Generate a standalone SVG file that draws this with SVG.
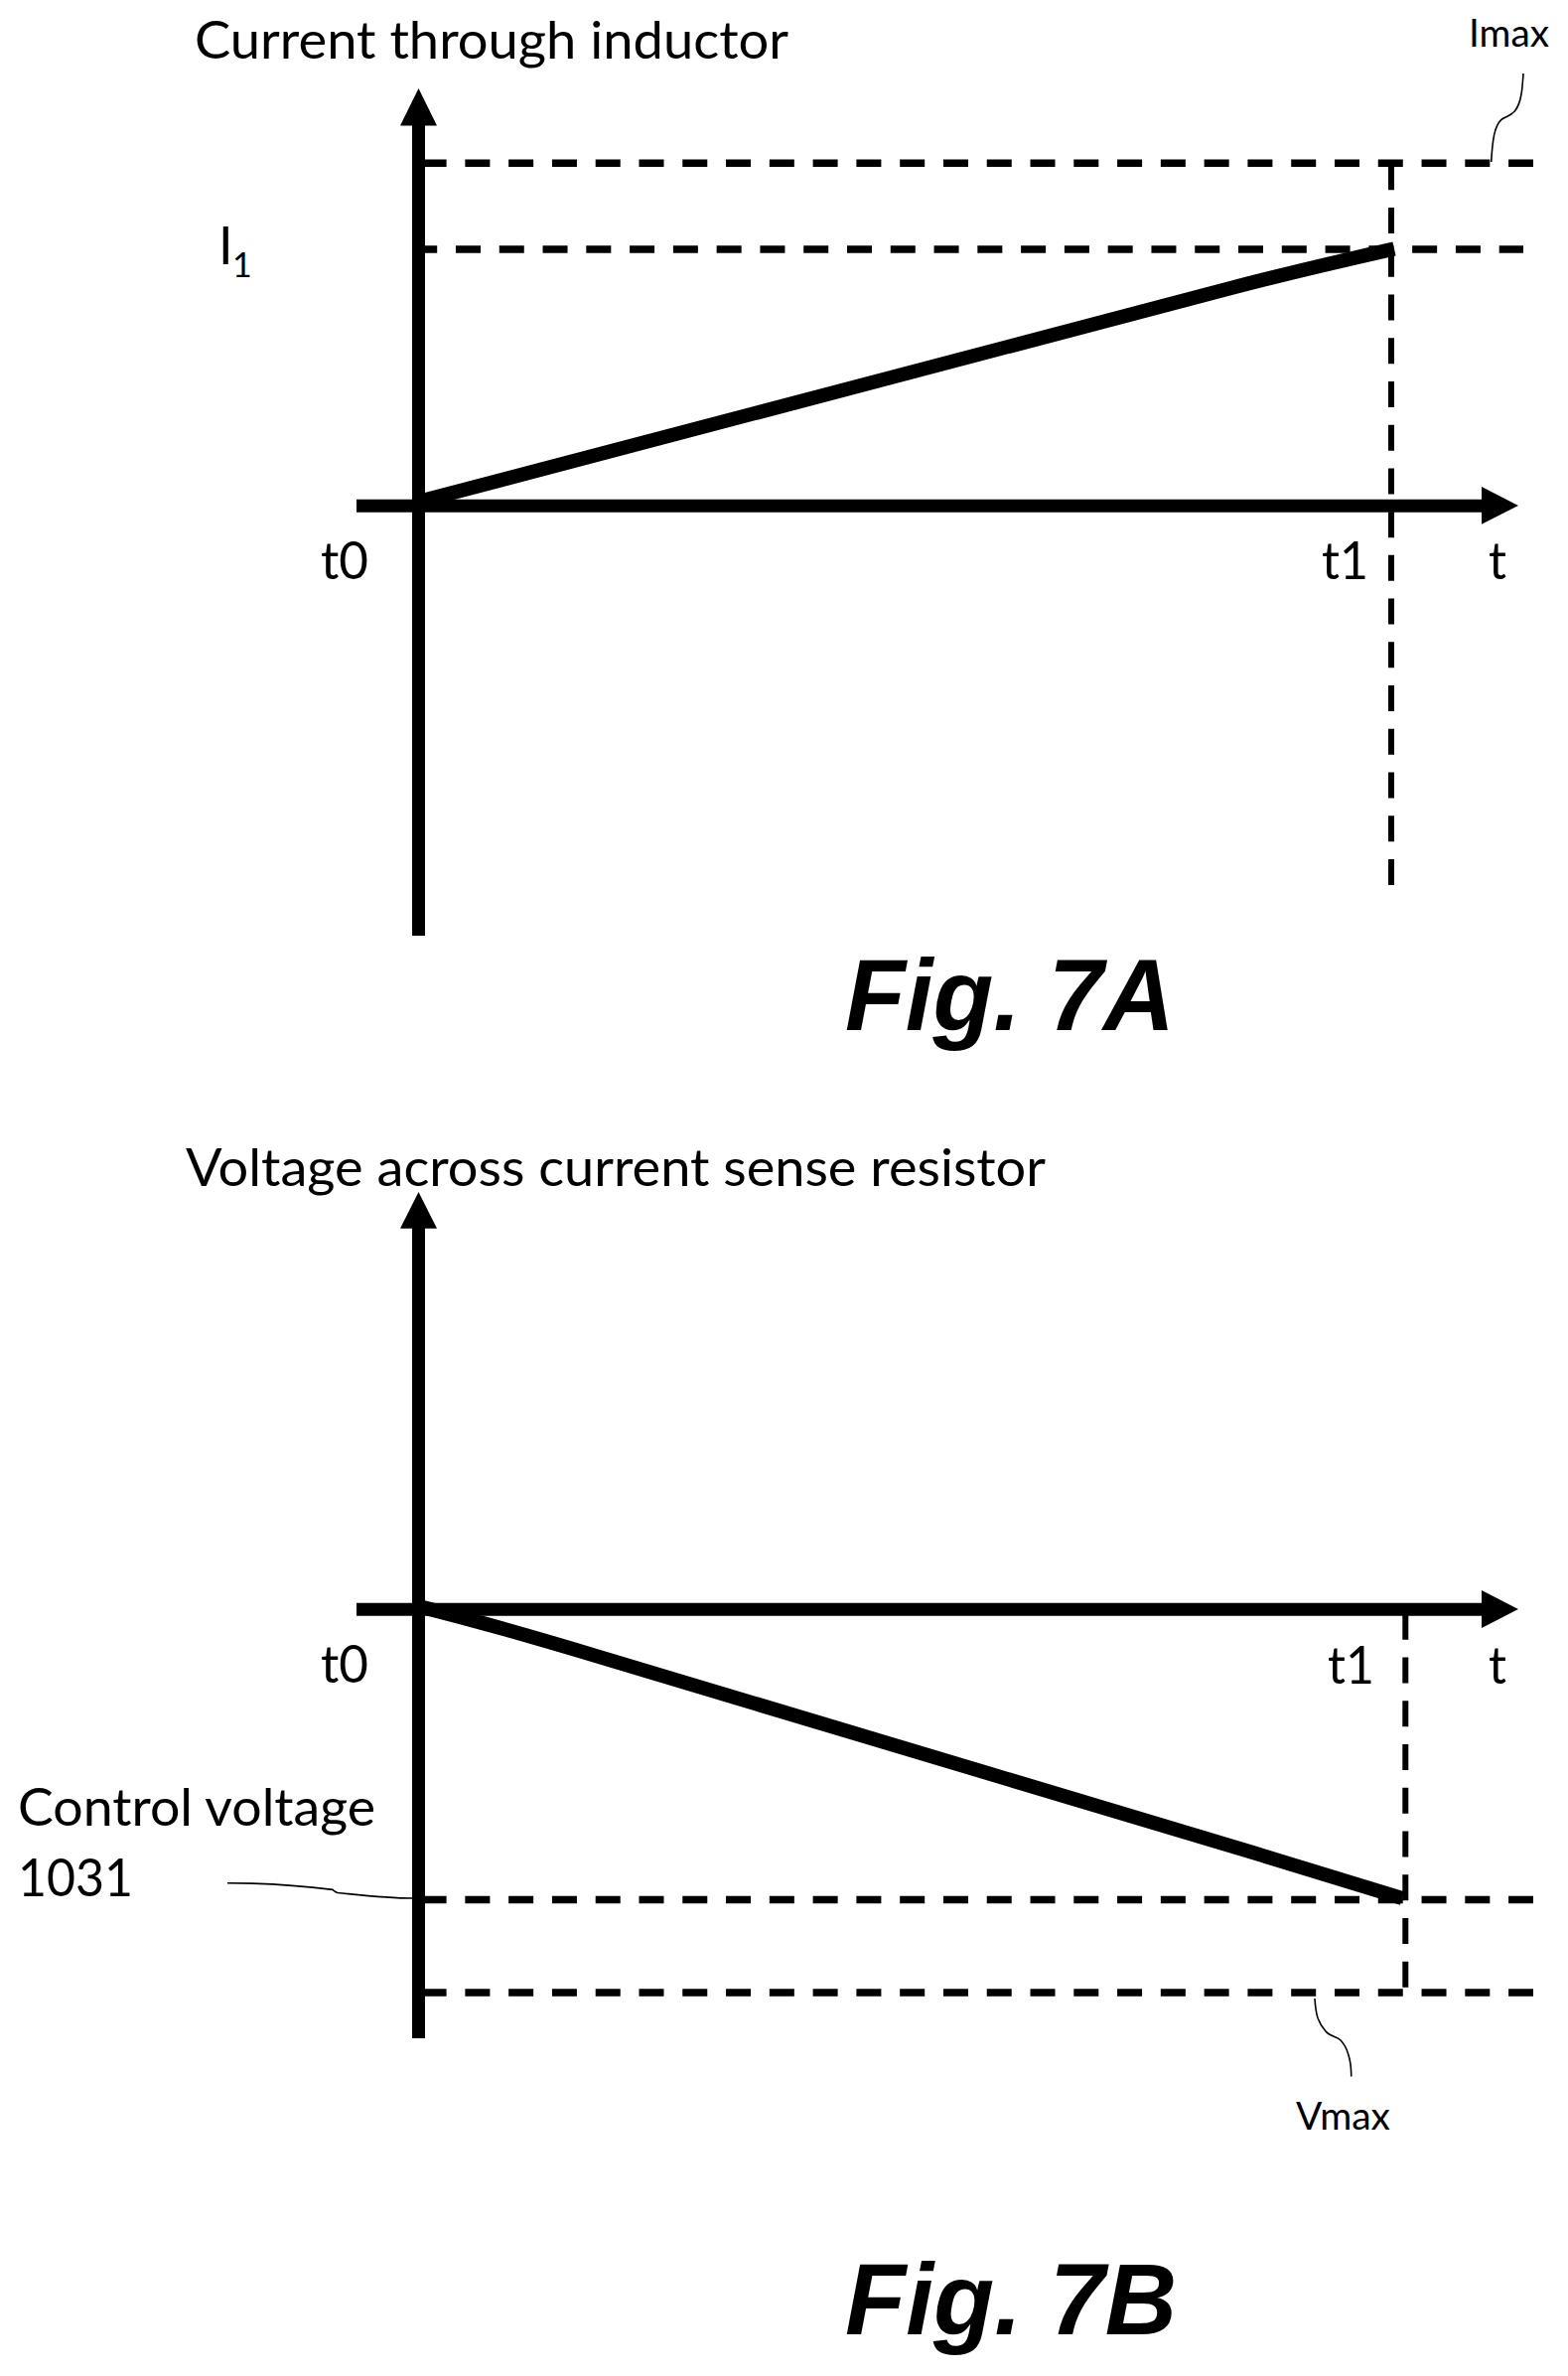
<svg xmlns="http://www.w3.org/2000/svg" width="1579" height="2392" viewBox="0 0 1579 2392">
<style>
.bg{fill:#fff}
.axis{fill:none;stroke:#000;stroke-width:13}
.ramp{fill:none;stroke:#000;stroke-width:14.2;stroke-linejoin:miter}
.head{fill:#000;stroke:none}
.dh{fill:none;stroke:#000;stroke-width:7.5;stroke-dasharray:25 18.78}
.dv{fill:none;stroke:#000;stroke-width:6;stroke-dasharray:26 17.73}
.lead{fill:none;stroke:#000;stroke-width:1.6}
text{font-family:"Lato","Noto Sans","Liberation Sans",sans-serif;fill:#000}
.t{font-size:52px}
.s{font-size:38px}
.fig{font-family:"Liberation Sans",Arial,sans-serif;font-weight:bold;font-style:italic;font-size:102px}
</style>
<rect class="bg" width="1579" height="2392"/>
<g id="chart-7a">
<g id="connectors-7a">
<path class="dh" d="M424.6 164.2H1544"/>
<path class="dh" d="M415.2 251H1534"/>
<path class="dv" d="M1401 165.3V891"/>
<path class="axis" d="M421.5 120V942"/>
<polygon class="head" points="421.5,89 440,126.5 403,126.5"/>
<path class="axis" d="M359 509.3H1497"/>
<polygon class="head" points="1529,509 1492,490 1492,527.7"/>
<path class="ramp" d="M421 505.2L1240 289.9Q1300 274 1404 250.5"/>
<path class="lead" d="M1534 74C1533 90 1532 103 1526 111C1521 118 1515 117 1511.7 120.6C1505 127 1503 140 1501.7 163"/>
</g>
<g id="labels-7a">
<text class="t" x="196" y="58.5" textLength="598" lengthAdjust="spacingAndGlyphs">Current through inductor</text>
<text class="t" x="220" y="265.6">I</text>
<text x="234" y="279" style="font-size:34px">1</text>
<text class="t" x="323" y="583" textLength="48" lengthAdjust="spacingAndGlyphs">t0</text>
<text class="t" x="1331" y="583" textLength="47" lengthAdjust="spacingAndGlyphs">t1</text>
<text class="t" x="1499" y="583" textLength="18" lengthAdjust="spacingAndGlyphs">t</text>
<text class="s" x="1479" y="47" textLength="81" lengthAdjust="spacingAndGlyphs">Imax</text>
<text class="fig" x="851" y="1037" textLength="332" lengthAdjust="spacingAndGlyphs">Fig. 7A</text>
</g>
</g>
<g id="chart-7b">
<g id="connectors-7b">
<path class="dh" d="M424.6 1912.5H1544"/>
<path class="dh" d="M424.6 2006H1544"/>
<path class="dv" d="M1415.3 1624.8V2001"/>
<path class="axis" d="M421.5 1230V2052"/>
<polygon class="head" points="421.5,1200 440,1236.8 403,1236.8"/>
<path class="axis" d="M359 1620.3H1497"/>
<polygon class="head" points="1529,1620 1492,1601 1492,1639"/>
<path class="ramp" d="M421 1617Q490 1634 600 1667L1260 1864.5Q1320 1882.5 1412 1911"/>
<path class="lead" d="M1324 2012C1325 2028 1327 2036 1335 2045C1340 2051 1346 2050 1350 2054C1356 2060 1361 2073 1360.7 2090.6"/>
<path class="lead" d="M229 1895.7C262 1895.7 300 1898 335 1902.4C337 1904 338 1905 340 1905.5C365 1908 390 1911 415 1911"/>
</g>
<g id="labels-7b">
<text class="t" x="187" y="1194" textLength="866" lengthAdjust="spacingAndGlyphs">Voltage across current sense resistor</text>
<text class="t" x="323" y="1694" textLength="48" lengthAdjust="spacingAndGlyphs">t0</text>
<text class="t" x="1337" y="1694.7" textLength="47" lengthAdjust="spacingAndGlyphs">t1</text>
<text class="t" x="1499" y="1694.7" textLength="18" lengthAdjust="spacingAndGlyphs">t</text>
<text class="t" x="18" y="1838" textLength="360" lengthAdjust="spacingAndGlyphs">Control voltage</text>
<text class="t" x="18" y="1908.5" textLength="116" lengthAdjust="spacingAndGlyphs">1031</text>
<text class="s" x="1305" y="2143.7" textLength="95" lengthAdjust="spacingAndGlyphs">Vmax</text>
<text class="fig" x="851" y="2350.3" textLength="334" lengthAdjust="spacingAndGlyphs">Fig. 7B</text>
</g>
</g>
</svg>
